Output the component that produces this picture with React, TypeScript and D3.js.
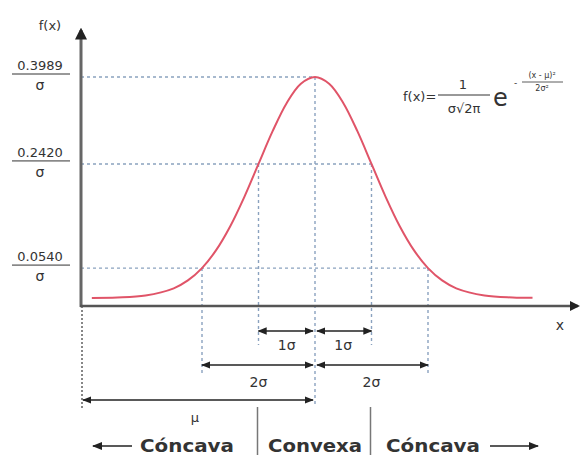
import React from 'react';
import * as d3 from 'd3';

// curve, x in sigma units, y = f(x)*sigma
const curveX = [-3.95, -3.5, -3, -2.5, -2.25, -2, -1.75, -1.5, -1.25, -1, -0.75, -0.5, -0.25, 0, 0.25, 0.5, 0.75, 1, 1.25, 1.5, 1.75, 2, 2.25, 2.5, 3, 3.5, 3.85];
const curveY = [0.0002, 0.0009, 0.0044, 0.0175, 0.0317, 0.054, 0.0863, 0.1295, 0.1826, 0.242, 0.3011, 0.3521, 0.3867, 0.3989, 0.3867, 0.3521, 0.3011, 0.242, 0.1826, 0.1295, 0.0863, 0.054, 0.0317, 0.0175, 0.0044, 0.0009, 0.0003];

// reference levels and the sigma where each guide meets the curve
const levelLabels = ['0.3989', '0.2420', '0.0540'];
const levelValues = [0.3989, 0.242, 0.054];
const levelReach = [0, 1, 2];

const spanLabels = ['1σ', '1σ', '2σ', '2σ'];
const spanFrom = [-1, 0, -2, 0];
const spanTo = [0, 1, 0, 2];

const regionLabels = ['Cóncava', 'Convexa', 'Cóncava'];

const W = 581;
const H = 455;
const axisX = 81;
const axisY = 306;

const x = d3.scaleLinear().domain([-4, 4]).range([89, 541]);
const y = d3.scaleLinear().domain([0, 0.3989]).range([298, 77]);

const line = d3.line<number>()
  .x((_d, i) => x(curveX[i]))
  .y(d => y(d))
  .curve(d3.curveCatmullRom);

const font = '"DejaVu Sans", Verdana, sans-serif';
const guide = '#8aa2bf';
const ink = '#333';

export default function App() {
  const rowY = [331, 331, 365, 365];
  const rowLabelY = [350, 350, 387, 387];
  const regionX = [187, 315, 433];
  return (
    <svg width={W} height={H} style={{ position: 'absolute', left: 0, top: 0, background: '#fff' }} fontFamily={font}>
      <defs>
        <marker id="ah" viewBox="0 0 10 10" refX="9" refY="5" markerWidth="7" markerHeight="7" orient="auto-start-reverse">
          <path d="M0,1 L10,5 L0,9 z" fill="#222" />
        </marker>
        <marker id="big" viewBox="0 0 10 10" refX="8" refY="5" markerWidth="4" markerHeight="4" orient="auto">
          <path d="M0,0 L10,5 L0,10 z" fill="#222" />
        </marker>
      </defs>

      {/* horizontal guides */}
      {levelValues.map((v, i) => (
        <line key={'h' + i} x1={axisX} x2={x(levelReach[i])} y1={y(v)} y2={y(v)}
          stroke={guide} strokeWidth={1.4} strokeDasharray="3,3" />
      ))}
      {/* vertical guides */}
      <line x1={x(0)} x2={x(0)} y1={y(0.3989)} y2={406} stroke={guide} strokeWidth={1.4} strokeDasharray="3,3" />
      {[-1, 1].map(s => (
        <line key={'v1' + s} x1={x(s)} x2={x(s)} y1={y(0.242)} y2={345} stroke={guide} strokeWidth={1.4} strokeDasharray="3,3" />
      ))}
      {[-2, 2].map(s => (
        <line key={'v2' + s} x1={x(s)} x2={x(s)} y1={y(0.054)} y2={376} stroke={guide} strokeWidth={1.4} strokeDasharray="3,3" />
      ))}
      <line x1={axisX + 1} x2={axisX + 1} y1={axisY} y2={410} stroke="#555" strokeWidth={1.4} strokeDasharray="2,2" />

      {/* curve */}
      <path d={line(curveY) || ''} fill="none" stroke="#e05468" strokeWidth={2} />

      {/* axes */}
      <line x1={axisX} x2={axisX} y1={axisY + 1} y2={30} stroke="#666" strokeWidth={3} markerEnd="url(#big)" />
      <line x1={axisX - 1} x2={578} y1={axisY} y2={axisY} stroke="#555" strokeWidth={2.5} markerEnd="url(#big)" />
      <text x={560} y={330} fontSize={14} fill={ink} textAnchor="middle">x</text>
      <text x={50} y={30} fontSize={13} fill={ink} textAnchor="middle">f(x)</text>

      {/* level labels */}
      {levelLabels.map((l, i) => {
        const yy = y(levelValues[i]) - 3;
        return (
          <g key={'l' + i}>
            <text x={40} y={yy - 4} fontSize={13} fill={ink} textAnchor="middle">{l}</text>
            <line x1={12} x2={70} y1={yy} y2={yy} stroke={ink} strokeWidth={1} />
            <text x={40} y={yy + 16} fontSize={14} fill={ink} textAnchor="middle">σ</text>
          </g>
        );
      })}

      {/* formula */}
      <g fill={ink}>
        <text x={403} y={101} fontSize={13}>f(x)=</text>
        <text x={463} y={89} fontSize={13} textAnchor="middle">1</text>
        <line x1={438} x2={490} y1={95} y2={95} stroke={ink} strokeWidth={1} />
        <text x={464} y={113} fontSize={13} textAnchor="middle">σ√2π</text>
        <text x={493} y={106} fontSize={24}>e</text>
        <text x={514} y={86} fontSize={9}>-</text>
        <text x={542} y={78} fontSize={8} textAnchor="middle">(x - μ)²</text>
        <line x1={522} x2={563} y1={82} y2={82} stroke={ink} strokeWidth={0.8} />
        <text x={542} y={91} fontSize={8} textAnchor="middle">2σ²</text>
      </g>

      {/* spans */}
      {spanLabels.map((l, i) => (
        <g key={'s' + i}>
          <line x1={x(spanFrom[i]) + (spanFrom[i] === 0 ? 2 : 0)} x2={x(spanTo[i]) - (spanTo[i] === 0 ? 2 : 0)}
            y1={rowY[i]} y2={rowY[i]} stroke="#222" strokeWidth={1.3}
            markerStart="url(#ah)" markerEnd="url(#ah)" />
          <text x={(x(spanFrom[i]) + x(spanTo[i])) / 2} y={rowLabelY[i]} fontSize={14} fill={ink} textAnchor="middle">{l}</text>
        </g>
      ))}
      <line x1={axisX + 2} x2={x(0) - 2} y1={400} y2={400} stroke="#222" strokeWidth={1.3}
        markerStart="url(#ah)" markerEnd="url(#ah)" />
      <text x={195} y={422} fontSize={13} fill={ink} textAnchor="middle">μ</text>

      {/* concavity regions */}
      {[-1, 1].map(s => (
        <line key={'r' + s} x1={x(s) - 1} x2={x(s) - 1} y1={407} y2={455} stroke="#777" strokeWidth={1.5} />
      ))}
      {regionLabels.map((l, i) => (
        <text key={'t' + i} x={regionX[i]} y={452} fontSize={18} fontWeight="bold" fill={ink}
          textAnchor="middle" textLength={94} lengthAdjust="spacingAndGlyphs">{l}</text>
      ))}
      <line x1={132} x2={93} y1={446} y2={446} stroke="#222" strokeWidth={1.5} markerEnd="url(#ah)" />
      <line x1={490} x2={538} y1={446} y2={446} stroke="#222" strokeWidth={1.5} markerEnd="url(#ah)" />
    </svg>
  );
}
